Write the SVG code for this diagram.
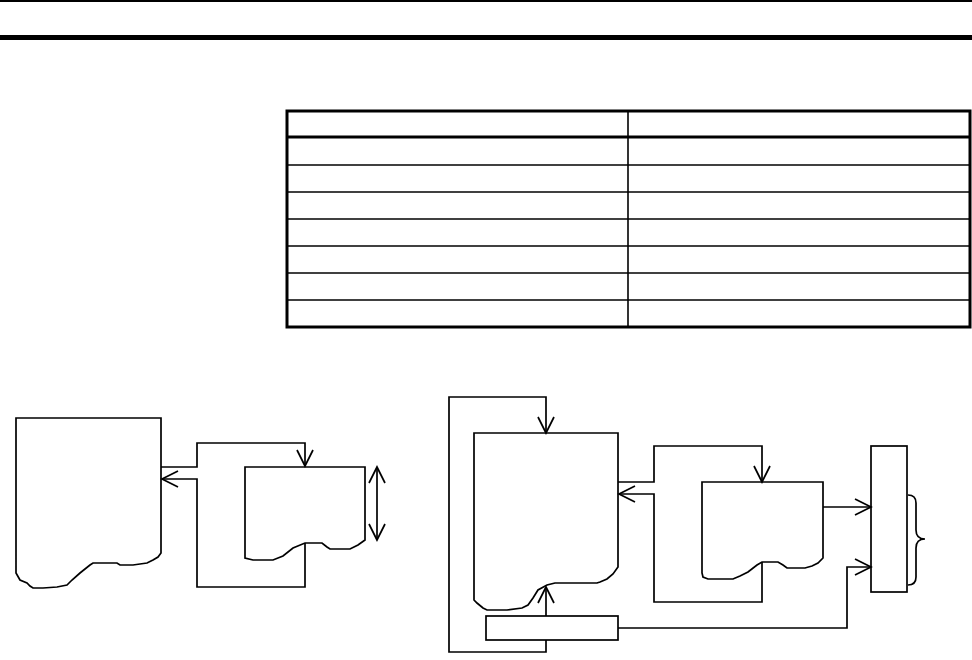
<svg xmlns="http://www.w3.org/2000/svg" width="972" height="660" viewBox="0 0 972 660">
<style>
.ln{fill:none;stroke:#000;stroke-width:1.7;stroke-linejoin:miter}
.sh{fill:#fff;stroke:#000;stroke-width:1.7}
.tb{fill:none;stroke:#000}
</style>
<defs>
<marker id="v" viewBox="-18 -10 20 20" refX="0" refY="0" markerWidth="20" markerHeight="20" orient="auto-start-reverse" markerUnits="userSpaceOnUse" overflow="visible">
<path d="M-16,-8 L0,0 L-16,8" fill="none" stroke="#000" stroke-width="1.7"/>
</marker>
</defs>
<rect width="972" height="660" fill="#fff"/>
<g id="header">
<rect x="0" y="0" width="972" height="2" fill="#000"/>
<rect x="0" y="35" width="972" height="5" fill="#000"/>
</g>
<g id="table">
<rect class="tb" x="287" y="111" width="683" height="216" stroke-width="3"/>
<line class="tb" x1="287" y1="137" x2="970" y2="137" stroke-width="3"/>
<g stroke-width="1.6">
<line class="tb" x1="287" y1="165" x2="970" y2="165"/>
<line class="tb" x1="287" y1="192" x2="970" y2="192"/>
<line class="tb" x1="287" y1="219" x2="970" y2="219"/>
<line class="tb" x1="287" y1="246" x2="970" y2="246"/>
<line class="tb" x1="287" y1="273" x2="970" y2="273"/>
<line class="tb" x1="287" y1="300" x2="970" y2="300"/>
<line class="tb" x1="628" y1="111" x2="628" y2="327"/>
</g>
</g>
<g id="left-big">
<path class="sh" d="M16,573 L16,418 L161,418 L161,553 L158,557 L153,560 L147,563 L140,564 L133,565 L120,565 L117,563 L93,563 L90,565 L80,573 L72,580 L67,585 L57,587 L43,588 L33,588 L30,586 L27,583 L20,580 Z"/>
</g>
<g id="left-small">
<path class="sh" d="M245,558 L245,467 L365,467 L365,540 L358,545 L350,549 L330,549 L327,547 L322,543 L305,543 L293,548 L283,556 L273,560 L253,560 Z"/>
</g>
<g id="right-big">
<path class="sh" d="M474,600 L474,433 L618,433 L618,567 L613,574 L607,579 L600,582 L597,583 L555,583 L547,585 L538,590 L533,598 L528,605 L522,608 L507,610 L487,610 L483,608 L477,603 Z"/>
</g>
<g id="right-mid">
<path class="sh" d="M702,573 L702,482 L823,482 L823,558 L818,563 L812,566 L805,568 L787,568 L783,565 L778,562 L762,562 L757,565 L748,572 L740,576 L733,579 L708,579 L703,577 Z"/>
</g>
<g id="right-bar">
<rect class="sh" x="486" y="616" width="132" height="24"/>
</g>
<g id="right-tall">
<rect class="sh" x="871" y="446" width="36" height="146"/>
</g>
<g id="brace">
<path class="ln" d="M908,495 Q916,495 916,503 L916,530 Q916,539 925,539 Q916,539 916,548 L916,577 Q916,585 908,585"/>
</g>
<g id="connectors">
<polyline class="ln" points="161,467 197,467 197,443 305,443 305,466" marker-end="url(#v)"/>
<polyline class="ln" points="305,543 305,587 197,587 197,479 162,479" marker-end="url(#v)"/>
<line class="ln" x1="377" y1="467" x2="377" y2="540" marker-start="url(#v)" marker-end="url(#v)"/>
<polyline class="ln" points="546,640 546,652 449,652 449,397 546,397 546,433" marker-end="url(#v)"/>
<line class="ln" x1="546" y1="616" x2="546" y2="587" marker-end="url(#v)"/>
<polyline class="ln" points="618,482 654,482 654,446 762,446 762,482" marker-end="url(#v)"/>
<polyline class="ln" points="762,562 762,602 654,602 654,494 619,494" marker-end="url(#v)"/>
<line class="ln" x1="823" y1="507" x2="871" y2="507" marker-end="url(#v)"/>
<polyline class="ln" points="618,628 847,628 847,567 871,567" marker-end="url(#v)"/>
</g>
</svg>
